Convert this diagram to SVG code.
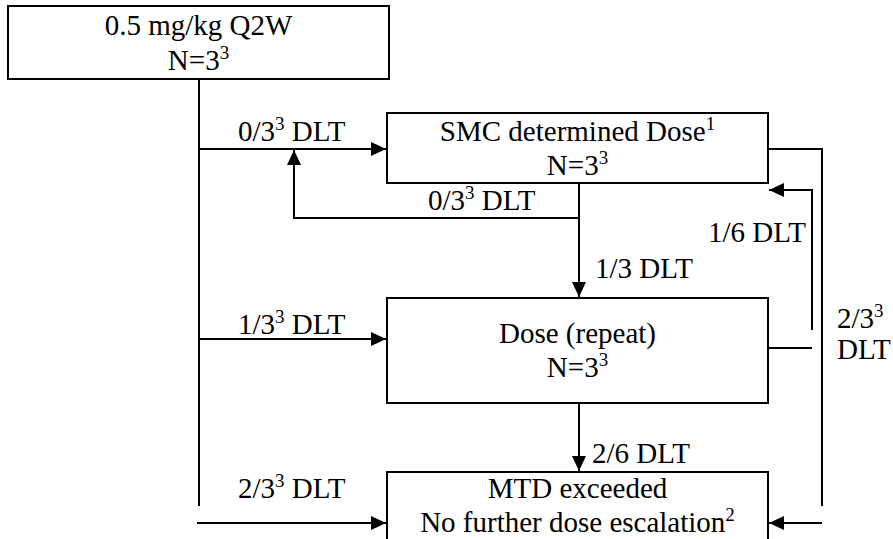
<svg xmlns="http://www.w3.org/2000/svg" width="893" height="539" viewBox="0 0 893 539">
<style>
.box{fill:#fff;stroke:#000;stroke-width:2}
.ln{fill:none;stroke:#000;stroke-width:2}
.t{font-size:29px;fill:#000}
.c{text-anchor:middle}
.sup{font-size:19px}
</style>
<defs>
<marker id="ah" markerUnits="userSpaceOnUse" markerWidth="16" markerHeight="14" refX="15" refY="7" orient="auto">
<path d="M0,0 L15,7 L0,14 z" fill="#000"/>
</marker>
</defs>
<rect width="893" height="539" fill="#fff"/>
<g id="connectors">
<path class="ln" d="M199,79 V506"/>
<path class="ln" d="M199,149 H386" marker-end="url(#ah)"/>
<path class="ln" d="M579,183 V297" marker-end="url(#ah)"/>
<path class="ln" d="M579,218 H294 V150" marker-end="url(#ah)"/>
<path class="ln" d="M199,339 H386" marker-end="url(#ah)"/>
<path class="ln" d="M579,403 V471" marker-end="url(#ah)"/>
<path class="ln" d="M197,523 H386" marker-end="url(#ah)"/>
<path class="ln" d="M768,149 H822 V506"/>
<path class="ln" d="M822,523 H769" marker-end="url(#ah)"/>
<path class="ln" d="M768,348 H812"/>
<path class="ln" d="M812,330 V190 H769" marker-end="url(#ah)"/>
</g>
<g id="labels" class="t" font-family="Liberation Serif, DejaVu Serif, serif">
<text x="238" y="141">0/3<tspan class="sup" dy="-11">3</tspan><tspan dy="11"> DLT</tspan></text>
<text x="428" y="210">0/3<tspan class="sup" dy="-11">3</tspan><tspan dy="11"> DLT</tspan></text>
<text x="595" y="278">1/3 DLT</text>
<text x="708" y="242">1/6 DLT</text>
<text x="238" y="334">1/3<tspan class="sup" dy="-11">3</tspan><tspan dy="11"> DLT</tspan></text>
<text x="837" y="328">2/3<tspan class="sup" dy="-11">3</tspan></text>
<text x="837" y="359">DLT</text>
<text x="592" y="463">2/6 DLT</text>
<text x="238" y="498">2/3<tspan class="sup" dy="-11">3</tspan><tspan dy="11"> DLT</tspan></text>
</g>
<g id="start" class="t" font-family="Liberation Serif, DejaVu Serif, serif">
<rect class="box" x="8" y="6" width="381" height="73"/>
<text class="c" x="198.5" y="35">0.5 mg/kg Q2W</text>
<text class="c" x="198.5" y="70">N=3<tspan class="sup" dy="-11">3</tspan></text>
</g>
<g id="smc" class="t" font-family="Liberation Serif, DejaVu Serif, serif">
<rect class="box" x="387" y="113" width="381" height="70"/>
<text class="c" x="577.5" y="141">SMC determined Dose<tspan class="sup" dy="-11">1</tspan></text>
<text class="c" x="577.5" y="175">N=3<tspan class="sup" dy="-11">3</tspan></text>
</g>
<g id="dose" class="t" font-family="Liberation Serif, DejaVu Serif, serif">
<rect class="box" x="387" y="298" width="381" height="105"/>
<text class="c" x="577.5" y="343">Dose (repeat)</text>
<text class="c" x="577.5" y="377">N=3<tspan class="sup" dy="-11">3</tspan></text>
</g>
<g id="mtd" class="t" font-family="Liberation Serif, DejaVu Serif, serif">
<rect class="box" x="387" y="472" width="381" height="80"/>
<text class="c" x="577.5" y="498">MTD exceeded</text>
<text class="c" x="577.5" y="532">No further dose escalation<tspan class="sup" dy="-11">2</tspan></text>
</g>
</svg>
